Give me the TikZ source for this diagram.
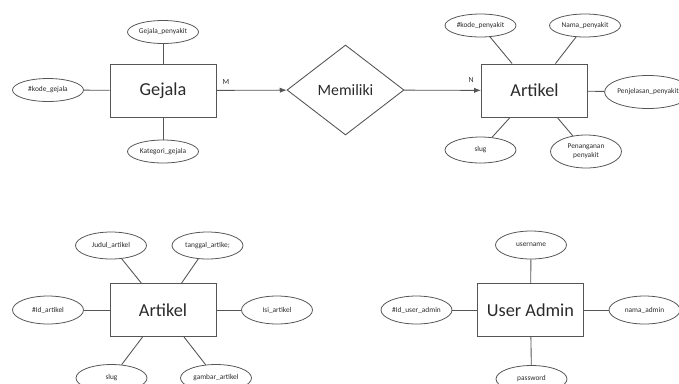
\documentclass[tikz,border=0pt]{standalone}
\usepackage{fontspec}
\setmainfont{Carlito}
\usetikzlibrary{shapes.geometric,arrows.meta}
\definecolor{erline}{HTML}{555555}
\definecolor{ertext}{HTML}{2A2A2A}
\begin{document}
\begin{tikzpicture}[x=0.02cm,y=-0.02cm,
  entity/.style={draw=erline,line width=0.5pt,minimum width=2.12cm,minimum height=1.06cm,
    inner sep=0pt,text=ertext,font=\fontsize{10.4}{12}\selectfont},
  attr/.style={draw=erline,line width=0.45pt,ellipse,minimum width=1.42cm,minimum height=0.46cm,
    inner sep=0pt,text=ertext,font=\fontsize{4.2}{5}\selectfont,align=center},
  rel/.style={draw=erline,line width=0.5pt,diamond,minimum width=2.34cm,minimum height=1.8cm,
    inner sep=0pt,text=ertext,font=\fontsize{9}{11}\selectfont},
  link/.style={draw=erline,line width=0.5pt},
  card/.style={text=ertext,font=\fontsize{4.4}{5}\selectfont,inner sep=0pt},
  arr/.style={link,-{Latex[length=4pt,width=3pt]}}]
\useasboundingbox (0,0) rectangle (679,383);
\clip (0,0) rectangle (679,383);

% Gejala entity and its attributes
\node[entity] (gej) at (163,90.5) {Gejala};
\node[attr] (gp) at (163,32) {Gejala\_penyakit};
\node[attr] (kg) at (48,90) {\#kode\_gejala};
\node[attr] (kat) at (163,151.5) {Kategori\_gejala};
\draw[link] (gp) -- (gej);
\draw[link] (kg) -- (gej);
\draw[link] (kat) -- (gej);

% Relationship
\node[rel] (mem) at (345.5,90) {Memiliki};

% Artikel entity (top) and its attributes
\node[entity] (art) at (534.5,90.5) {Artikel};
\node[attr] (kp) at (480.5,25.5) {\#kode\_penyakit};
\node[attr] (np) at (585,25.5) {Nama\_penyakit};
\node[attr,minimum width=1.52cm,minimum height=0.66cm] (pj) at (648,92) {Penjelasan\_penyakit};
\node[attr,minimum height=0.52cm] (sl) at (480.5,150) {slug};
\node[attr,minimum height=0.66cm] (pn) at (586,151.5) {Penanganan\\penyakit};
\draw[link] (kp) -- (art);
\draw[link] (np) -- (art);
\draw[link] (art) -- (pj);
\draw[link] (sl) -- (art);
\draw[link] (pn) -- (art);

% Relationship connectors with cardinalities
\draw[arr] (gej) -- (mem);
\draw[arr] (mem) -- (art);
\node[card] (m) at (226,82) {M};
\node[card] (n) at (471,80) {N};

% Artikel entity (bottom) and its attributes
\node[entity] (art2) at (163,310) {Artikel};
\node[attr,minimum height=0.54cm] (ja) at (111,245.5) {Judul\_artikel};
\node[attr,minimum height=0.54cm] (ta) at (207.5,245.5) {tanggal\_artike;};
\node[attr,minimum height=0.56cm] (ida) at (48,310) {\#Id\_artikel};
\node[attr,minimum height=0.56cm] (isi) at (277,310) {Isi\_artikel};
\node[attr,minimum height=0.54cm] (sl2) at (111.5,378) {slug};
\node[attr,minimum height=0.54cm] (ga) at (216,378) {gambar\_artikel};
\draw[link] (ja) -- (art2);
\draw[link] (ta) -- (art2);
\draw[link] (ida) -- (art2);
\draw[link] (art2) -- (isi);
\draw[link] (sl2) -- (art2);
\draw[link] (ga) -- (art2);

% User Admin entity and its attributes
\node[entity] (adm) at (530.5,310) {User Admin};
\node[attr,minimum height=0.56cm] (un) at (531,245) {username};
\node[attr,minimum height=0.56cm] (idu) at (416.5,310) {\#Id\_user\_admin};
\node[attr,minimum height=0.56cm] (na) at (644.5,310) {nama\_admin};
\node[attr,minimum height=0.54cm] (pw) at (531.5,379) {password};
\draw[link] (un) -- (adm);
\draw[link] (idu) -- (adm);
\draw[link] (adm) -- (na);
\draw[link] (pw) -- (adm);
\end{tikzpicture}
\end{document}
